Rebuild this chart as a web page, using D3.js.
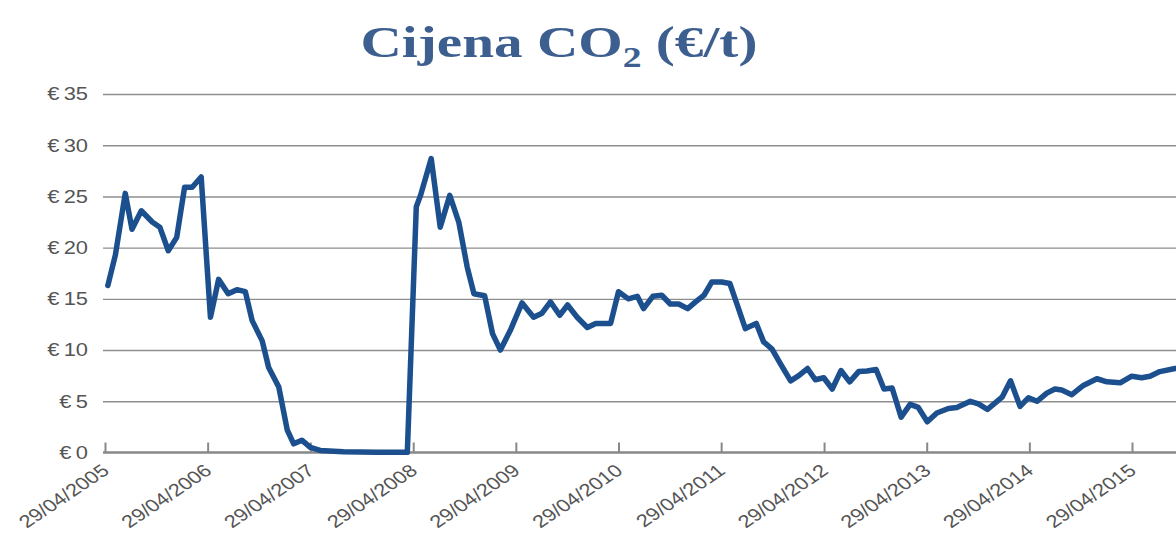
<!DOCTYPE html>
<html>
<head>
<meta charset="utf-8">
<script src="https://cdn.jsdelivr.net/npm/d3@7"></script>
<style>
  html, body { margin: 0; padding: 0; background: #ffffff; }
  svg { display: block; }
</style>
</head>
<body>
<svg id="chart" width="1176" height="534"></svg>
<script>
// ---- data ----
const dates = [
  "2005-05-09","2005-06-05","2005-07-10","2005-08-03","2005-09-05","2005-10-14","2005-11-10","2005-12-10",
  "2006-01-09","2006-02-06","2006-03-05","2006-04-06","2006-05-09","2006-06-07","2006-07-11","2006-08-11",
  "2006-09-10","2006-10-04","2006-11-09","2006-12-02","2007-01-07","2007-02-06","2007-03-01","2007-03-30",
  "2007-04-29","2007-06-03","2007-08-25","2007-12-23","2008-04-08","2008-05-10","2008-05-25","2008-07-02",
  "2008-08-03","2008-09-06","2008-10-08","2008-11-07","2008-12-01","2009-01-08","2009-02-05","2009-03-05",
  "2009-04-09","2009-05-21","2009-07-01","2009-07-31","2009-08-30","2009-10-02","2009-10-30","2009-12-03",
  "2010-01-08","2010-02-07","2010-04-01","2010-04-29","2010-06-03","2010-07-05","2010-07-27","2010-08-29",
  "2010-09-30","2010-10-30","2010-11-29","2010-12-31","2011-01-28","2011-02-27","2011-03-27","2011-05-01",
  "2011-05-30","2011-06-24","2011-07-24","2011-09-01","2011-09-27","2011-10-27","2011-11-25","2012-01-01",
  "2012-01-30","2012-03-01","2012-03-29","2012-04-28","2012-05-28","2012-06-28","2012-07-29","2012-08-30",
  "2012-09-29","2012-10-31","2012-11-28","2012-12-27","2013-01-28","2013-03-01","2013-03-30","2013-05-01",
  "2013-06-04","2013-07-15","2013-08-14","2013-10-01","2013-10-30","2013-12-01","2014-01-22","2014-02-21",
  "2014-03-27","2014-04-26","2014-05-26","2014-06-30","2014-07-29","2014-08-22","2014-09-27","2014-11-07",
  "2014-12-25","2015-01-30","2015-03-18","2015-04-28","2015-06-02","2015-07-02","2015-08-06","2015-09-29"
];
const prices = [
  16.3, 19.3, 25.3, 21.8, 23.6, 22.5, 22.0, 19.7,
  21.0, 25.9, 25.9, 26.9, 13.2, 16.9, 15.5, 15.9,
  15.7, 12.9, 10.9, 8.3, 6.4, 2.2, 0.85, 1.2,
  0.5, 0.2, 0.08, 0.02, 0.02, 24.0, 25.1, 28.7,
  22.0, 25.1, 22.5, 18.1, 15.5, 15.3, 11.6, 10.0,
  11.9, 14.6, 13.2, 13.6, 14.7, 13.4, 14.4, 13.2,
  12.2, 12.6, 12.6, 15.7, 15.0, 15.25, 14.05, 15.25,
  15.35, 14.5, 14.5, 14.05, 14.7, 15.35, 16.65, 16.65,
  16.5, 14.5, 12.1, 12.6, 10.8, 10.1, 8.7, 7.0,
  7.5, 8.2, 7.1, 7.3, 6.2, 8.0, 6.9, 7.9,
  7.95, 8.1, 6.2, 6.3, 3.45, 4.7, 4.4, 3.0,
  3.85, 4.3, 4.4, 5.0, 4.75, 4.2, 5.4, 7.0,
  4.5, 5.35, 5.0, 5.8, 6.2, 6.1, 5.65, 6.55,
  7.2, 6.9, 6.8, 7.45, 7.3, 7.45, 7.9, 8.2
];
const xTickDates = ["2005-04-29","2006-04-29","2007-04-29","2008-04-29","2009-04-29","2010-04-29",
                    "2011-04-29","2012-04-29","2013-04-29","2014-04-29","2015-04-29"];
const yTickValues = [0, 5, 10, 15, 20, 25, 30, 35];
const titleMain = "Cijena CO";
const titleSub = "2";
const titleTail = " (€/t)";

// ---- drawing ----
const parse = d3.timeParse("%Y-%m-%d");
const fmt = d3.timeFormat("%d/%m/%Y");
const data = dates.map((d, i) => ({ date: parse(d), value: prices[i] }));

const svg = d3.select("#chart");
const W = 1176;
const gridLeft = 103;

const x = d3.scaleTime()
  .domain([parse(xTickDates[0]), parse(xTickDates[xTickDates.length - 1])])
  .range([105, 1132]);
const y = d3.scaleLinear().domain([0, 35]).range([452.5, 94]);

// title
const title = svg.append("text")
  .attr("transform", "translate(559,57) scale(1.3,1)")
  .attr("text-anchor", "middle")
  .attr("font-family", "'Liberation Serif', 'Times New Roman', serif")
  .attr("font-weight", "bold")
  .attr("font-size", 44)
  .attr("fill", "#3d5f8f")
  .style("white-space", "pre");
title.append("tspan").text(titleMain);
title.append("tspan").attr("font-size", 29).attr("dy", 10).text(titleSub);
title.append("tspan").attr("dy", -10).text(titleTail);

// gridlines (y axis)
const yAxis = d3.axisLeft(y)
  .tickValues(yTickValues.filter(v => v > 0))
  .tickSize(-(W - gridLeft))
  .tickFormat("");
const gy = svg.append("g").attr("transform", `translate(${gridLeft},0)`).call(yAxis);
gy.select(".domain").remove();
gy.selectAll(".tick line").attr("stroke", "#8e8e8e").attr("stroke-width", 1.4);

// y labels
svg.append("g").selectAll("text")
  .data(yTickValues)
  .join("text")
  .attr("transform", d => `translate(88,${y(d)}) scale(1.25,1)`)
  .attr("text-anchor", "end")
  .attr("dy", "0.36em")
  .attr("font-family", "'Liberation Sans', Arial, sans-serif")
  .attr("font-size", 17.5)
  .attr("fill", "#555")
  .text(d => "€\u2009" + d);

// x axis
const xAxis = d3.axisBottom(x)
  .tickValues(xTickDates.map(parse))
  .tickSizeInner(-10)
  .tickSizeOuter(0)
  .tickFormat(fmt);
const gx = svg.append("g").attr("transform", `translate(0,${y(0)})`).call(xAxis);
gx.select(".domain")
  .attr("d", `M${gridLeft},0H${W}`)
  .attr("stroke", "#888")
  .attr("stroke-width", 2.6);
gx.selectAll(".tick line").attr("stroke", "#888").attr("stroke-width", 2);
gx.selectAll(".tick text")
  .attr("x", 0).attr("y", 0).attr("dy", 0)
  .attr("transform", "translate(5,20) scale(1.25,1) rotate(-40)")
  .attr("text-anchor", "end")
  .attr("font-family", "'Liberation Sans', Arial, sans-serif")
  .attr("font-size", 17.5)
  .attr("fill", "#555");

// line
const line = d3.line()
  .x(d => x(d.date))
  .y(d => y(d.value));
svg.append("path")
  .datum(data)
  .attr("d", line)
  .attr("fill", "none")
  .attr("stroke", "#1c4f8e")
  .attr("stroke-width", 5.5)
  .attr("stroke-linejoin", "round")
  .attr("stroke-linecap", "round");
</script>
</body>
</html>
